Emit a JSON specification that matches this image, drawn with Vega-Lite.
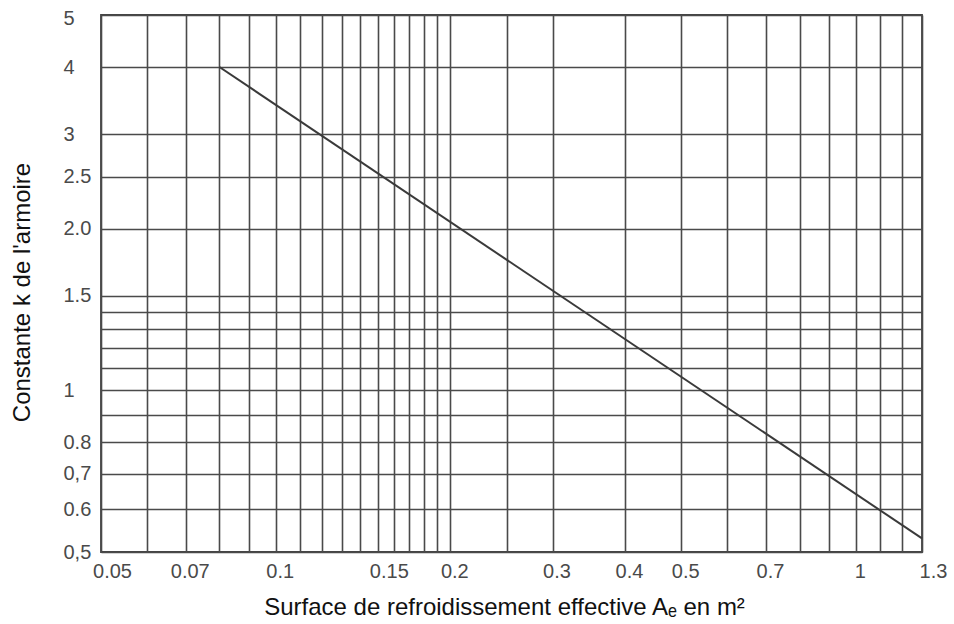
{
  "$schema": "https://vega.github.io/schema/vega-lite/v6.json",
  "width": 821,
  "height": 537,
  "autosize": {"type": "none"},
  "padding": {"left": 101, "top": 15, "right": 32, "bottom": 72},
  "background": "white",
  "config": {
    "view": {"stroke": "#444444", "strokeWidth": 1.8},
    "axis": {
      "grid": true,
      "gridColor": "#4a4a4a",
      "gridWidth": 1.6,
      "gridOpacity": 1,
      "ticks": false,
      "tickSize": 0,
      "domain": false,
      "labelFont": "Liberation Sans",
      "labelFontSize": 20,
      "labelColor": "#4a4a4a",
      "labelOverlap": false,
      "labelFlush": false,
      "titleFont": "Liberation Sans",
      "titleFontSize": 24,
      "titleFontWeight": "normal",
      "titleColor": "#111111"
    }
  },
  "data": {
    "values": [
      {"A": 0.08, "k": 4.0},
      {"A": 1.3, "k": 0.53}
    ]
  },
  "mark": {"type": "line", "color": "#3a3a3a", "strokeWidth": 2},
  "encoding": {
    "x": {
      "field": "A",
      "type": "quantitative",
      "scale": {"type": "log", "domain": [0.05, 1.3], "nice": false},
      "axis": {
        "title": "Surface de refroidissement effective Aₑ en m²",
        "values": [0.05,0.06,0.07,0.08,0.09,0.1,0.11,0.12,0.13,0.14,0.15,0.16,0.17,0.18,0.19,0.2,0.25,0.3,0.4,0.5,0.6,0.7,0.8,0.9,1,1.1,1.2,1.3],
        "labelExpr": "indexof([0.05,0.07,0.1,0.15,0.2,0.3,0.4,0.5,0.7,1,1.3], datum.value) >= 0 ? '' + datum.value : ''",
        "labelPadding": 9,
        "labelOffset": {"condition": {"test": "datum.value == 0.05 || datum.value == 0.15 || datum.value == 1.3", "value": 11}, "value": 4},
        "titleX": 403,
        "titleY": 62,
        "titleAlign": "center",
        "titleBaseline": "alphabetic"
      }
    },
    "y": {
      "field": "k",
      "type": "quantitative",
      "scale": {"type": "log", "domain": [0.5, 5], "nice": false},
      "axis": {
        "title": "Constante k de l'armoire",
        "values": [0.5,0.6,0.7,0.8,0.9,1,1.1,1.2,1.3,1.4,1.5,2,2.5,3,4,5],
        "labelExpr": "datum.value == 2 ? '2.0' : datum.value == 0.7 ? '0,7' : datum.value == 0.5 ? '0,5' : indexof([0.6,0.8,1,1.5,2.5,3,4,5], datum.value) >= 0 ? '' + datum.value : ''",
        "labelAlign": "left",
        "labelPadding": 38,
        "labelOffset": {"condition": {"test": "datum.value == 5", "value": 3}, "value": 0},
        "titleX": -72,
        "titleY": 277,
        "titleAlign": "center",
        "titleBaseline": "alphabetic",
        "titleAngle": -90
      }
    }
  }
}
